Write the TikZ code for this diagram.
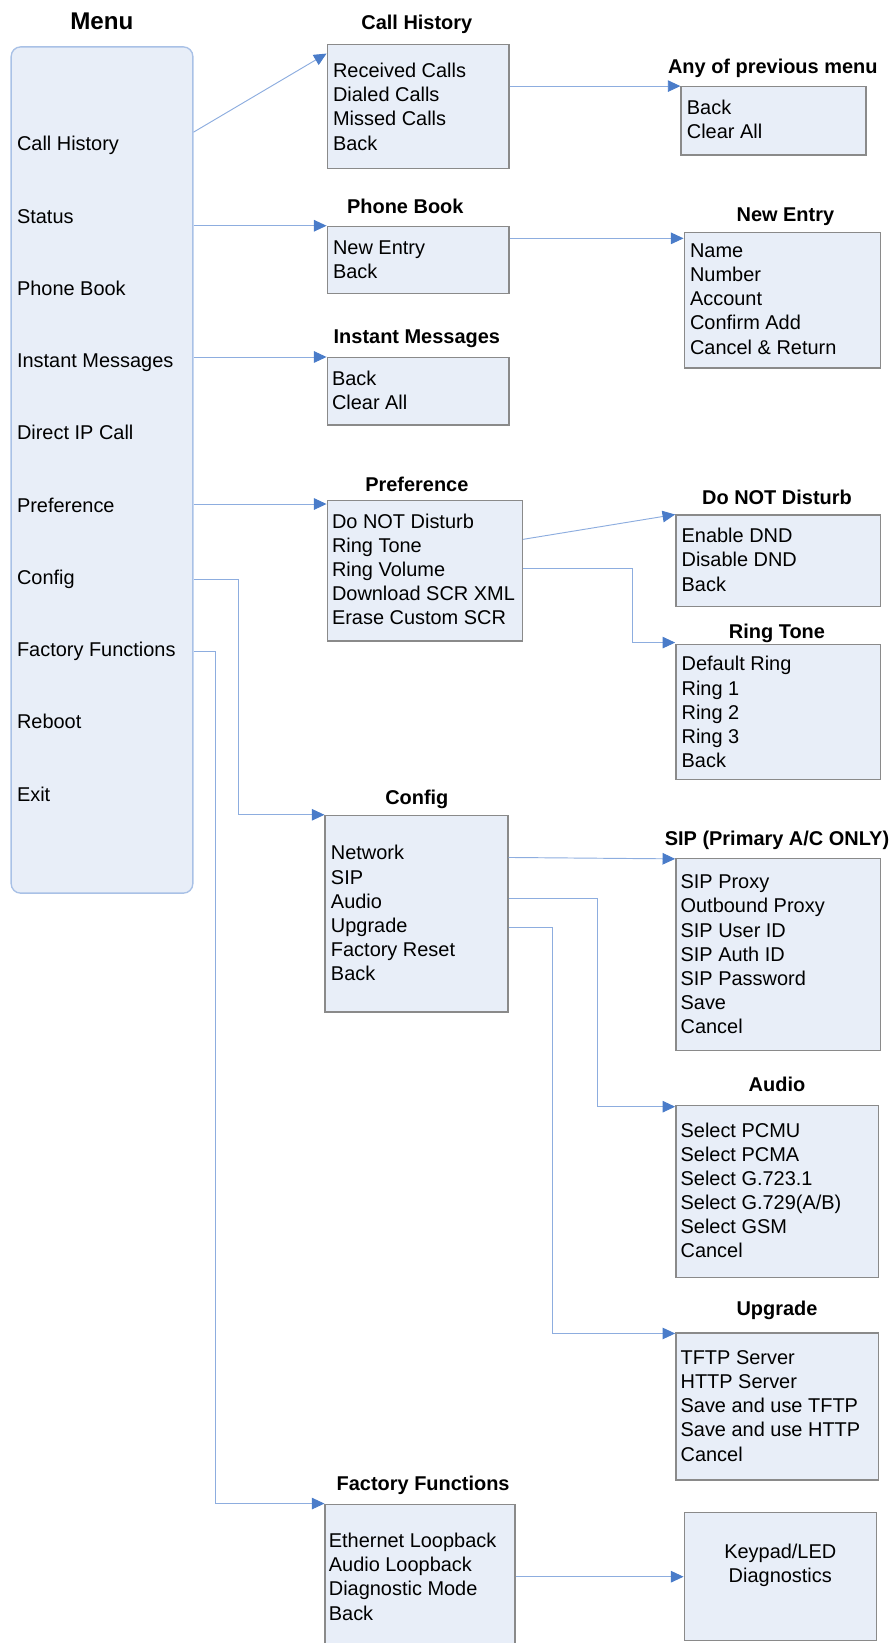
\documentclass[tikz,border=0pt]{standalone}
\usepackage{fontspec}
\setmainfont{Liberation Sans}
\usetikzlibrary{arrows.meta}
\definecolor{boxfill}{HTML}{E8EEF8}
\definecolor{boxline}{HTML}{8A8A8A}
\definecolor{menuline}{HTML}{A9C1E6}
\definecolor{connline}{HTML}{8DADDF}
\definecolor{tipblue}{HTML}{4A7CC9}
\tikzset{
  subbox/.style 2 args={draw=boxline, fill=boxfill, line width=1.3pt, inner sep=0pt,
    anchor=north west, minimum width=#1pt, minimum height=#2pt},
  itm/.style={font=\fontsize{19}{23}\selectfont, align=left, inner sep=0pt, anchor=north west},
  ttl/.style={font=\bfseries\fontsize{19}{23}\selectfont, inner sep=0pt},
  conn/.style={draw=connline, line width=0.9pt,
    -{Triangle[length=12pt, width=11pt, color=tipblue]}}
}

\begin{document}
\begin{tikzpicture}[x=1pt, y=-1pt]
  \useasboundingbox (0,0) rectangle (850.5,1564.8);

  \node [ttl, font=\bfseries\fontsize{23}{27}\selectfont] (menuT) at (97,20) {Menu};
  \node [draw=menuline, fill=boxfill, line width=1.3pt, rounded corners=9pt, anchor=north west,
    minimum width=173pt, minimum height=806pt] (menu) at (10,44) {};
  \foreach \lbl [count=\i] in {Call History, Status, Phone Book, Instant Messages, Direct IP Call,
      Preference, Config, Factory Functions, Reboot, Exit}
    \node [itm, anchor=base west] (m\i) at (16, 143.8+68.8*\i-68.8) {\lbl};

  \node [subbox={173}{118}] (ch) at (311,42) {};
  \node [ttl] (chT) at (397,23) {Call History};
  \node [itm] (chL) at (317,60) {Received Calls\\Dialed Calls\\Missed Calls\\Back};

  \node [subbox={176}{65}] (aop) at (648,82) {};
  \node [ttl] (aopT) at (736,65) {Any of previous menu};
  \node [itm] (aopL) at (654,95) {Back\\Clear All};

  \node [subbox={173}{64}] (pb) at (311,215) {};
  \node [ttl] (pbT) at (386,197) {Phone Book};
  \node [itm] (pbL) at (317,229) {New Entry\\Back};

  \node [subbox={187}{129}] (ne) at (651,221) {};
  \node [ttl] (neT) at (748,206) {New Entry};
  \node [itm] (neL) at (657,232) {Name\\Number\\Account\\Confirm Add\\Cancel \& Return};

  \node [subbox={173}{64}] (im) at (311,340) {};
  \node [ttl] (imT) at (397,323) {Instant Messages};
  \node [itm] (imL) at (316,353) {Back\\Clear All};

  \node [subbox={186}{134}] (pref) at (311,476) {};
  \node [ttl] (prefT) at (397,461) {Preference};
  \node [itm] (prefL) at (316,489) {Do NOT Disturb\\Ring Tone\\Ring Volume\\Download SCR XML\\Erase Custom SCR};

  \node [subbox={195}{87}] (dnd) at (643,490) {};
  \node [ttl] (dndT) at (740,474) {Do NOT Disturb};
  \node [itm] (dndL) at (649,503) {Enable DND\\Disable DND\\Back};

  \node [subbox={195}{129}] (rt) at (643,613) {};
  \node [ttl] (rtT) at (740,603) {Ring Tone};
  \node [itm] (rtL) at (649,625) {Default Ring\\Ring 1\\Ring 2\\Ring 3\\Back};

  \node [subbox={174}{187}] (cfg) at (309,776) {};
  \node [ttl] (cfgT) at (397,761) {Config};
  \node [itm] (cfgL) at (315,805) {Network\\SIP\\Audio\\Upgrade\\Factory Reset\\Back};

  \node [subbox={195}{183}] (sip) at (643,817) {};
  \node [ttl] (sipT) at (740,800) {SIP (Primary A/C ONLY)};
  \node [itm] (sipL) at (648,833) {SIP Proxy\\Outbound Proxy\\SIP User ID\\SIP Auth ID\\SIP Password\\Save\\Cancel};

  \node [subbox={193}{164}] (aud) at (643,1052) {};
  \node [ttl] (audT) at (740,1033) {Audio};
  \node [itm] (audL) at (648,1069) {Select PCMU\\Select PCMA\\Select G.723.1\\Select G.729(A/B)\\Select GSM\\Cancel};

  \node [subbox={193}{140}] (upg) at (643,1269) {};
  \node [ttl] (upgT) at (740,1248) {Upgrade};
  \node [itm] (upgL) at (648,1286) {TFTP Server\\HTTP Server\\Save and use TFTP\\Save and use HTTP\\Cancel};

  \node [subbox={181}{145}] (ff) at (309,1432) {};
  \node [ttl] (ffT) at (403,1415) {Factory Functions};
  \node [itm] (ffL) at (313,1460) {Ethernet Loopback\\Audio Loopback\\Diagnostic Mode\\Back};

  \node [subbox={183}{122}] (kp) at (651,1440) {};
  \node [itm, align=center, anchor=center] (kpL) at ([yshift=11pt]kp.center) {Keypad/LED\\Diagnostics};

  \draw [conn] ([yshift=13pt]menu.east |- m1) -- ([yshift=-9pt]ch.north west);
  \draw [conn] (menu.east |- pb.north west) -- (pb.north west);
  \draw [conn] (menu.east |- im.north west) -- (im.north west);
  \draw [conn] ([yshift=1pt]menu.east |- m6) -- ([yshift=1pt]pref.west |- m6);
  \draw [conn] (menu.east |- m7) -- ++(43,0) |- (cfg.north west);
  \draw [conn] (menu.east |- m8) -- ++(21,0) |- (ff.north west);

  \draw [conn] (ch.east |- aop.north west) -- (aop.north west);
  \coordinate (neIn) at ([yshift=-6pt]ne.north west);
  \draw [conn] (pb.east |- neIn) -- (neIn);
  \draw [conn] ([yshift=30pt]pref.east) -- (dnd.north west);
  \draw [conn] ([yshift=2pt]pref.east) -- ++(104,0) |- ([yshift=1pt]rt.north west);
  \draw [conn] ([yshift=53.5pt]cfg.east) -- ([yshift=-1pt]sip.north west);
  \draw [conn] ([yshift=14.5pt]cfg.east) -- ++(85,0) |- ([yshift=-2pt]aud.north west);
  \draw [conn] ([yshift=-13.5pt]cfg.east) -- ++(42,0) |- ([yshift=-1pt]upg.north west);
  \draw [conn] (ff.east |- kp.west) -- (kp.west);
\end{tikzpicture}
\end{document}
